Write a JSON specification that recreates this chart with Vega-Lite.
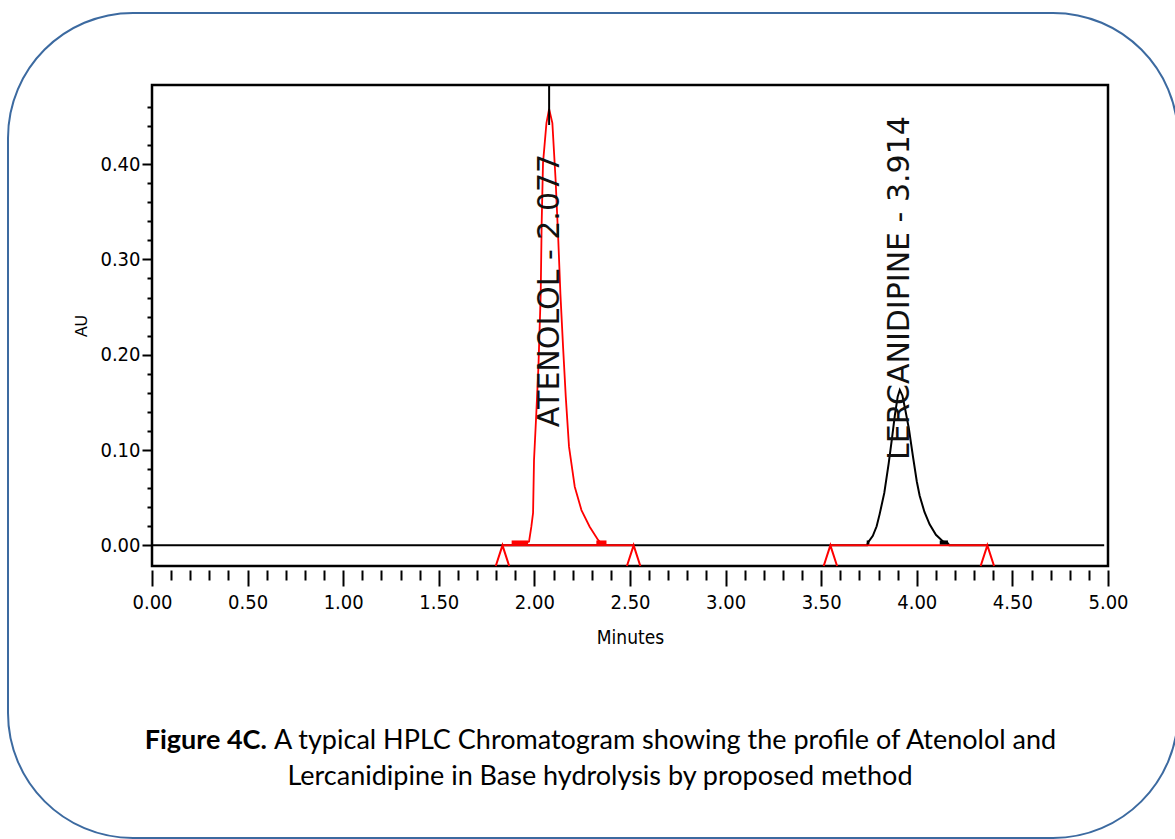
{
  "$schema": "https://vega.github.io/schema/vega-lite/v6.json",
  "autosize": {"type": "none"},
  "width": 956,
  "height": 481,
  "padding": {"left": 152, "top": 85, "right": 67, "bottom": 273},
  "background": "white",
  "config": {
    "view": {"stroke": "black", "strokeWidth": 2.5},
    "axis": {"grid": false, "domain": false, "tickColor": "black", "tickWidth": 2, "labelColor": "black", "titleColor": "black"}
  },
  "datasets": {
    "box": [{"x1": -0.7531, "x2": 5.366, "y1": -0.3071, "y2": 0.5586}],
    "lines": [
      {"series": "trace", "seg": "k", "t": 0, "v": 0},
      {"series": "trace", "seg": "k", "t": 3.74, "v": 0},
      {"series": "trace", "seg": "k", "t": 3.745, "v": 0.003},
      {"series": "trace", "seg": "k", "t": 3.77, "v": 0.010},
      {"series": "trace", "seg": "k", "t": 3.79, "v": 0.020},
      {"series": "trace", "seg": "k", "t": 3.806, "v": 0.033},
      {"series": "trace", "seg": "k", "t": 3.83, "v": 0.055},
      {"series": "trace", "seg": "k", "t": 3.853, "v": 0.086},
      {"series": "trace", "seg": "k", "t": 3.87, "v": 0.112},
      {"series": "trace", "seg": "k", "t": 3.885, "v": 0.136},
      {"series": "trace", "seg": "k", "t": 3.9, "v": 0.156},
      {"series": "trace", "seg": "k", "t": 3.911, "v": 0.163},
      {"series": "trace", "seg": "k", "t": 3.925, "v": 0.157},
      {"series": "trace", "seg": "k", "t": 3.94, "v": 0.142},
      {"series": "trace", "seg": "k", "t": 3.959, "v": 0.122},
      {"series": "trace", "seg": "k", "t": 3.98, "v": 0.093},
      {"series": "trace", "seg": "k", "t": 4.0, "v": 0.067},
      {"series": "trace", "seg": "k", "t": 4.015, "v": 0.052},
      {"series": "trace", "seg": "k", "t": 4.04, "v": 0.035},
      {"series": "trace", "seg": "k", "t": 4.067, "v": 0.022},
      {"series": "trace", "seg": "k", "t": 4.1, "v": 0.011},
      {"series": "trace", "seg": "k", "t": 4.137, "v": 0.004},
      {"series": "trace", "seg": "k", "t": 4.163, "v": 0.002},
      {"series": "trace", "seg": "k", "t": 4.17, "v": 0},
      {"series": "trace", "seg": "k", "t": 4.98, "v": 0},
      {"series": "peak", "seg": "a", "t": 1.967, "v": 0.003},
      {"series": "peak", "seg": "a", "t": 1.972, "v": 0.004},
      {"series": "peak", "seg": "a", "t": 1.984, "v": 0.0195},
      {"series": "peak", "seg": "a", "t": 1.993, "v": 0.034},
      {"series": "peak", "seg": "a", "t": 1.998, "v": 0.0895},
      {"series": "peak", "seg": "a", "t": 2.01, "v": 0.1385},
      {"series": "peak", "seg": "a", "t": 2.021, "v": 0.187},
      {"series": "peak", "seg": "a", "t": 2.033, "v": 0.264},
      {"series": "peak", "seg": "a", "t": 2.038, "v": 0.338},
      {"series": "peak", "seg": "a", "t": 2.045, "v": 0.401},
      {"series": "peak", "seg": "a", "t": 2.063, "v": 0.443},
      {"series": "peak", "seg": "a", "t": 2.077, "v": 0.458},
      {"series": "peak", "seg": "a", "t": 2.094, "v": 0.443},
      {"series": "peak", "seg": "a", "t": 2.111, "v": 0.383},
      {"series": "peak", "seg": "a", "t": 2.125, "v": 0.32},
      {"series": "peak", "seg": "a", "t": 2.136, "v": 0.264},
      {"series": "peak", "seg": "a", "t": 2.15, "v": 0.208},
      {"series": "peak", "seg": "a", "t": 2.164, "v": 0.156},
      {"series": "peak", "seg": "a", "t": 2.181, "v": 0.1035},
      {"series": "peak", "seg": "a", "t": 2.211, "v": 0.0615},
      {"series": "peak", "seg": "a", "t": 2.246, "v": 0.037},
      {"series": "peak", "seg": "a", "t": 2.289, "v": 0.0195},
      {"series": "peak", "seg": "a", "t": 2.333, "v": 0.0056},
      {"series": "peak", "seg": "a", "t": 2.345, "v": 0.003},
      {"series": "rbase", "seg": "b1", "t": 1.833, "v": 0},
      {"series": "rbase", "seg": "b1", "t": 2.519, "v": 0},
      {"series": "rbase", "seg": "b2", "t": 3.548, "v": 0},
      {"series": "rbase", "seg": "b2", "t": 4.369, "v": 0},
      {"series": "tri", "seg": "t1", "t": 1.798, "v": -0.0217},
      {"series": "tri", "seg": "t1", "t": 1.833, "v": 0},
      {"series": "tri", "seg": "t1", "t": 1.868, "v": -0.0217},
      {"series": "tri", "seg": "t2", "t": 2.484, "v": -0.0217},
      {"series": "tri", "seg": "t2", "t": 2.519, "v": 0},
      {"series": "tri", "seg": "t2", "t": 2.554, "v": -0.0217},
      {"series": "tri", "seg": "t3", "t": 3.513, "v": -0.0217},
      {"series": "tri", "seg": "t3", "t": 3.548, "v": 0},
      {"series": "tri", "seg": "t3", "t": 3.583, "v": -0.0217},
      {"series": "tri", "seg": "t4", "t": 4.334, "v": -0.0217},
      {"series": "tri", "seg": "t4", "t": 4.369, "v": 0},
      {"series": "tri", "seg": "t4", "t": 4.404, "v": -0.0217},
      {"series": "rmark", "seg": "m1", "t": 1.881, "v": 0.003},
      {"series": "rmark", "seg": "m1", "t": 1.967, "v": 0.003},
      {"series": "rmark", "seg": "m2", "t": 2.324, "v": 0.003},
      {"series": "rmark", "seg": "m2", "t": 2.377, "v": 0.003},
      {"series": "kmark", "seg": "k1", "t": 3.738, "v": 0.003},
      {"series": "kmark", "seg": "k1", "t": 3.752, "v": 0.003},
      {"series": "kmark", "seg": "k2", "t": 4.12, "v": 0.003},
      {"series": "kmark", "seg": "k2", "t": 4.163, "v": 0.003}
    ],
    "rules": [{"t": 2.077, "v1": 0.441, "v2": 0.483}],
    "peaklabels": [
      {"label": "ATENOLOL - 2.077", "t": 2.084, "v": 0.124},
      {"label": "LERCANIDIPINE - 3.914", "t": 3.911, "v": 0.0895}
    ],
    "capbold": [{"text": "Figure 4C.", "t": 0.601, "v": -0.2137}],
    "capline1": [{"text": "A typical HPLC Chromatogram showing the profile of Atenolol and", "t": 0.638, "v": -0.2137}],
    "capline2": [{"text": "Lercanidipine in Base hydrolysis by proposed method", "t": 2.343, "v": -0.2515}]
  },
  "resolve": {"axis": {"x": "independent", "y": "independent"}},
  "layer": [
    {
      "data": {"name": "box"},
      "mark": {"type": "rect", "fill": null, "fillOpacity": 0, "stroke": "#3c6aa0", "strokeWidth": 2, "cornerRadius": 125},
      "encoding": {
        "x": {"field": "x1", "type": "quantitative", "scale": {"domain": [0, 5], "nice": false, "zero": false},
          "axis": {"orient": "bottom", "values": [0, 0.5, 1, 1.5, 2, 2.5, 3, 3.5, 4, 4.5, 5], "format": ".2f", "tickSize": 16, "offset": 4, "labelPadding": 6, "labelFont": "Liberation Sans Narrow, DejaVu Sans Condensed, Liberation Sans, sans-serif", "labelFontSize": 20, "title": "Minutes", "titleFont": "Liberation Sans Narrow, DejaVu Sans Condensed, Liberation Sans, sans-serif", "titleFontSize": 19, "titleFontWeight": "normal", "titlePadding": 16, "labelFlush": false}},
        "x2": {"field": "x2"},
        "y": {"field": "y1", "type": "quantitative", "scale": {"domain": [-0.0217, 0.483], "nice": false, "zero": false},
          "axis": {"orient": "left", "values": [0, 0.1, 0.2, 0.3, 0.4], "format": ".2f", "tickSize": 10, "labelPadding": 2, "labelFont": "Liberation Sans Narrow, DejaVu Sans Condensed, Liberation Sans, sans-serif", "labelFontSize": 20, "title": "AU", "titleFont": "Liberation Sans, Arial, sans-serif", "titleFontSize": 16, "titleFontWeight": "normal", "titlePadding": 10}},
        "y2": {"field": "y2"}
      }
    },
    {
      "data": {"name": "lines"},
      "transform": [{"filter": "datum.series == 'trace'"}],
      "mark": {"type": "line", "color": "black", "strokeWidth": 2},
      "encoding": {
        "x": {"field": "t", "type": "quantitative", "scale": {"domain": [0, 5], "nice": false, "zero": false},
          "axis": {"orient": "bottom", "values": [0.1, 0.2, 0.3, 0.4, 0.6, 0.7, 0.8, 0.9, 1.1, 1.2, 1.3, 1.4, 1.6, 1.7, 1.8, 1.9, 2.1, 2.2, 2.3, 2.4, 2.6, 2.7, 2.8, 2.9, 3.1, 3.2, 3.3, 3.4, 3.6, 3.7, 3.8, 3.9, 4.1, 4.2, 4.3, 4.4, 4.6, 4.7, 4.8, 4.9], "labels": false, "tickSize": 10, "offset": 4, "title": null}},
        "y": {"field": "v", "type": "quantitative", "scale": {"domain": [-0.0217, 0.483], "nice": false, "zero": false},
          "axis": {"orient": "left", "values": [0.02, 0.04, 0.06, 0.08, 0.12, 0.14, 0.16, 0.18, 0.22, 0.24, 0.26, 0.28, 0.32, 0.34, 0.36, 0.38, 0.42, 0.44, 0.46], "labels": false, "tickSize": 5, "title": null}},
        "detail": {"field": "seg"}
      }
    },
    {
      "data": {"name": "lines"},
      "transform": [{"filter": "datum.series == 'rbase' || datum.series == 'tri'"}],
      "mark": {"type": "line", "color": "#ff0000", "strokeWidth": 2},
      "encoding": {
        "x": {"field": "t", "type": "quantitative", "scale": {"domain": [0, 5], "nice": false, "zero": false}, "axis": null},
        "y": {"field": "v", "type": "quantitative", "scale": {"domain": [-0.0217, 0.483], "nice": false, "zero": false}, "axis": null},
        "detail": {"field": "seg"}
      }
    },
    {
      "data": {"name": "lines"},
      "transform": [{"filter": "datum.series == 'peak'"}],
      "mark": {"type": "line", "color": "#ff0000", "strokeWidth": 1.8},
      "encoding": {
        "x": {"field": "t", "type": "quantitative", "scale": {"domain": [0, 5], "nice": false, "zero": false}, "axis": null},
        "y": {"field": "v", "type": "quantitative", "scale": {"domain": [-0.0217, 0.483], "nice": false, "zero": false}, "axis": null},
        "detail": {"field": "seg"}
      }
    },
    {
      "data": {"name": "lines"},
      "transform": [{"filter": "datum.series == 'rmark'"}],
      "mark": {"type": "line", "color": "#ff0000", "strokeWidth": 4},
      "encoding": {
        "x": {"field": "t", "type": "quantitative", "scale": {"domain": [0, 5], "nice": false, "zero": false}, "axis": null},
        "y": {"field": "v", "type": "quantitative", "scale": {"domain": [-0.0217, 0.483], "nice": false, "zero": false}, "axis": null},
        "detail": {"field": "seg"}
      }
    },
    {
      "data": {"name": "lines"},
      "transform": [{"filter": "datum.series == 'kmark'"}],
      "mark": {"type": "line", "color": "black", "strokeWidth": 4},
      "encoding": {
        "x": {"field": "t", "type": "quantitative", "scale": {"domain": [0, 5], "nice": false, "zero": false}, "axis": null},
        "y": {"field": "v", "type": "quantitative", "scale": {"domain": [-0.0217, 0.483], "nice": false, "zero": false}, "axis": null},
        "detail": {"field": "seg"}
      }
    },
    {
      "data": {"name": "rules"},
      "mark": {"type": "rule", "color": "black", "strokeWidth": 2},
      "encoding": {
        "x": {"field": "t", "type": "quantitative", "scale": {"domain": [0, 5], "nice": false, "zero": false}, "axis": null},
        "y": {"field": "v1", "type": "quantitative", "scale": {"domain": [-0.0217, 0.483], "nice": false, "zero": false}, "axis": null},
        "y2": {"field": "v2"}
      }
    },
    {
      "data": {"name": "peaklabels"},
      "mark": {"type": "text", "angle": 270, "align": "left", "baseline": "middle", "font": "DejaVu Sans", "fontSize": 30, "color": "#111111"},
      "encoding": {
        "x": {"field": "t", "type": "quantitative", "scale": {"domain": [0, 5], "nice": false, "zero": false}, "axis": null},
        "y": {"field": "v", "type": "quantitative", "scale": {"domain": [-0.0217, 0.483], "nice": false, "zero": false}, "axis": null},
        "text": {"field": "label"}
      }
    },
    {
      "data": {"name": "capbold"},
      "mark": {"type": "text", "align": "right", "baseline": "alphabetic", "font": "Lato", "fontSize": 27, "fontWeight": "bold", "color": "black"},
      "encoding": {
        "x": {"field": "t", "type": "quantitative", "scale": {"domain": [0, 5], "nice": false, "zero": false}, "axis": null},
        "y": {"field": "v", "type": "quantitative", "scale": {"domain": [-0.0217, 0.483], "nice": false, "zero": false}, "axis": null},
        "text": {"field": "text"}
      }
    },
    {
      "data": {"name": "capline1"},
      "mark": {"type": "text", "align": "left", "baseline": "alphabetic", "font": "Lato", "fontSize": 27, "color": "black"},
      "encoding": {
        "x": {"field": "t", "type": "quantitative", "scale": {"domain": [0, 5], "nice": false, "zero": false}, "axis": null},
        "y": {"field": "v", "type": "quantitative", "scale": {"domain": [-0.0217, 0.483], "nice": false, "zero": false}, "axis": null},
        "text": {"field": "text"}
      }
    },
    {
      "data": {"name": "capline2"},
      "mark": {"type": "text", "align": "center", "baseline": "alphabetic", "font": "Lato", "fontSize": 27, "color": "black"},
      "encoding": {
        "x": {"field": "t", "type": "quantitative", "scale": {"domain": [0, 5], "nice": false, "zero": false}, "axis": null},
        "y": {"field": "v", "type": "quantitative", "scale": {"domain": [-0.0217, 0.483], "nice": false, "zero": false}, "axis": null},
        "text": {"field": "text"}
      }
    }
  ]
}
